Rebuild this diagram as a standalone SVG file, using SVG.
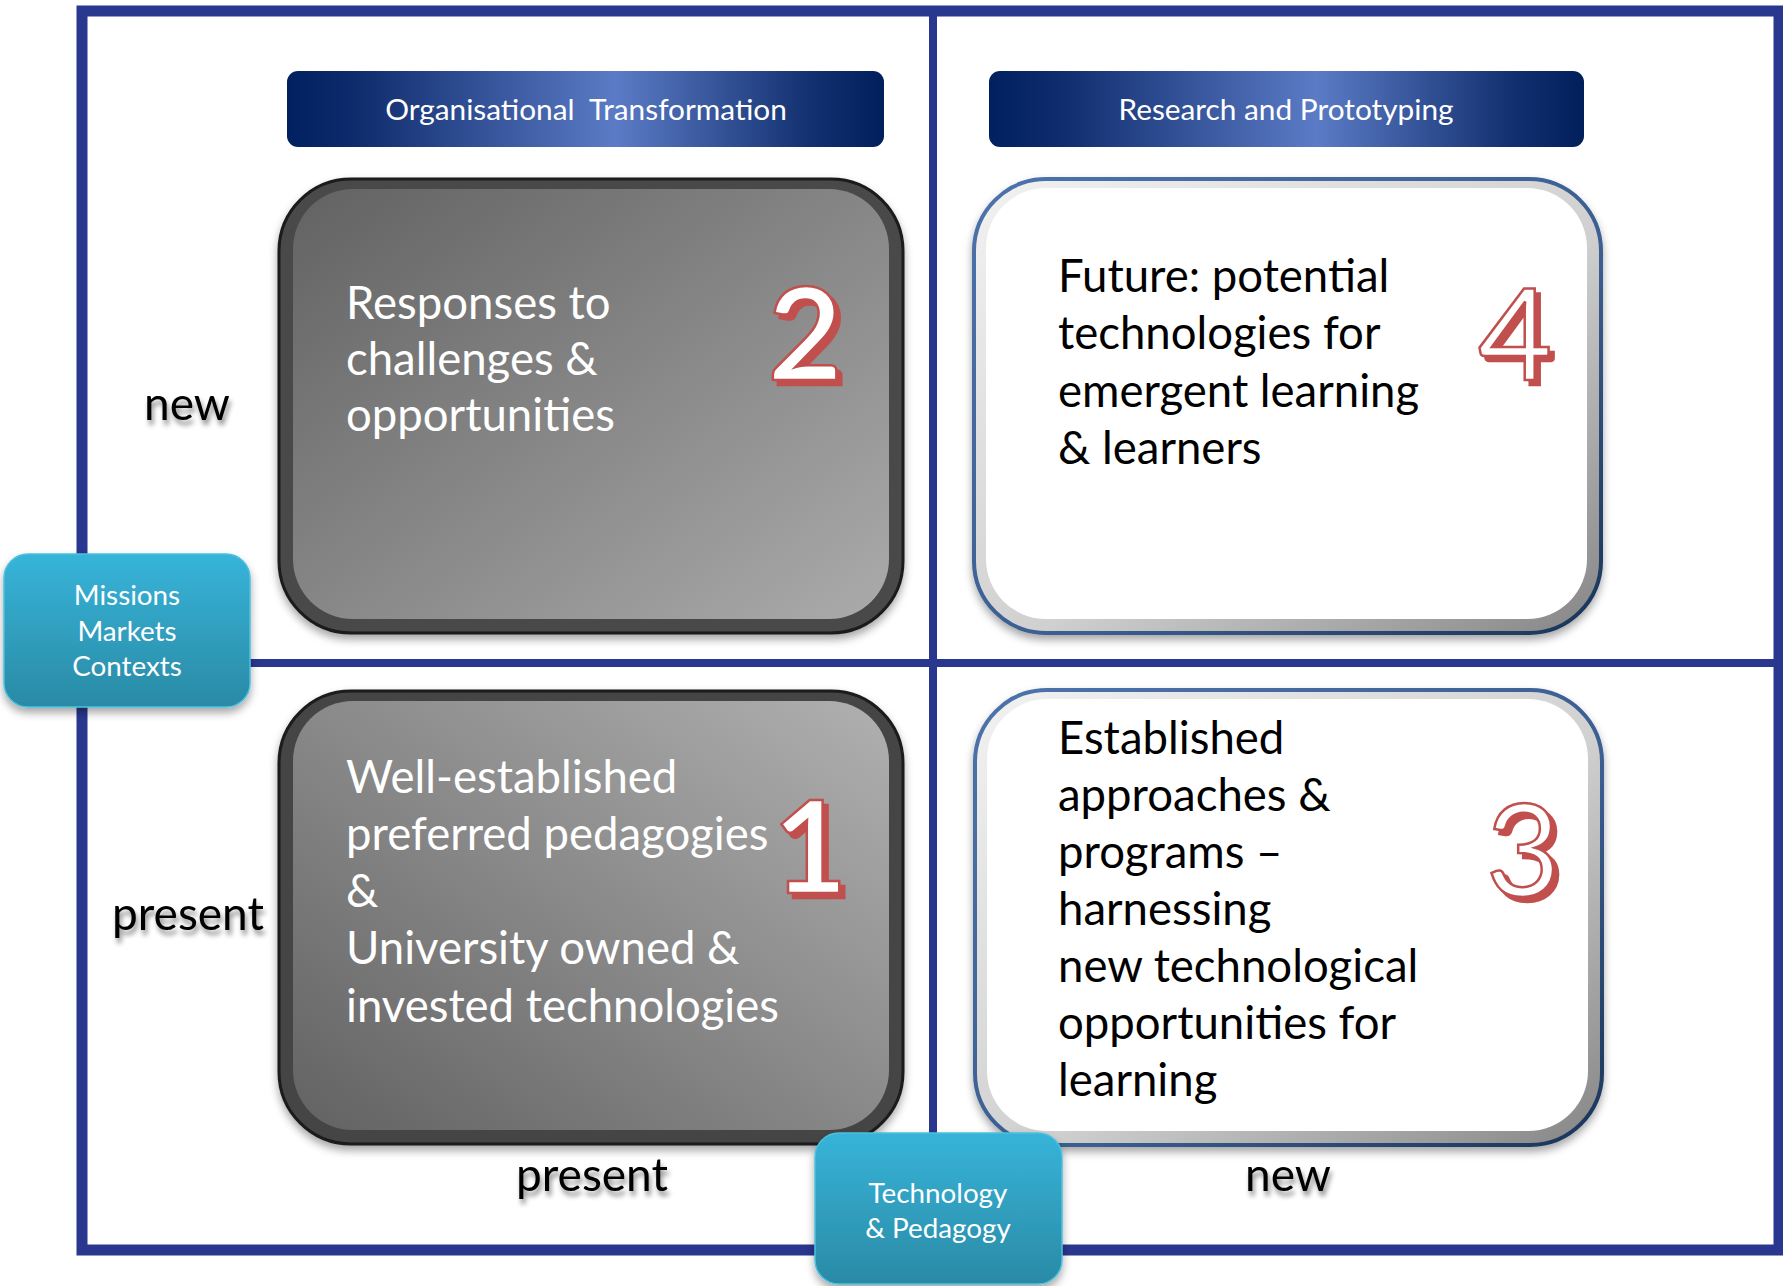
<svg xmlns="http://www.w3.org/2000/svg" width="1783" height="1286" viewBox="0 0 1783 1286">
  <defs>
    <linearGradient id="hdr" x1="0" y1="0" x2="1" y2="0">
      <stop offset="0" stop-color="#00205f"/>
      <stop offset="0.12" stop-color="#0f2c6d"/>
      <stop offset="0.55" stop-color="#5b7bc6"/>
      <stop offset="0.88" stop-color="#12306f"/>
      <stop offset="1" stop-color="#001f5b"/>
    </linearGradient>
    <linearGradient id="g2" x1="0" y1="0" x2="1" y2="1">
      <stop offset="0" stop-color="#626262"/>
      <stop offset="1" stop-color="#ababab"/>
    </linearGradient>
    <linearGradient id="g1" x1="0" y1="1" x2="1" y2="0">
      <stop offset="0" stop-color="#626262"/>
      <stop offset="1" stop-color="#b0b0b0"/>
    </linearGradient>
    <linearGradient id="rim" x1="0" y1="0" x2="1" y2="1">
      <stop offset="0" stop-color="#f2f2f2"/>
      <stop offset="0.55" stop-color="#d0d0d0"/>
      <stop offset="1" stop-color="#858585"/>
    </linearGradient>
    <linearGradient id="rimStroke" x1="0" y1="0" x2="1" y2="1">
      <stop offset="0" stop-color="#4d73ab"/>
      <stop offset="0.6" stop-color="#3a5d8f"/>
      <stop offset="1" stop-color="#1b3558"/>
    </linearGradient>
    <linearGradient id="cyan" x1="0" y1="0" x2="0" y2="1">
      <stop offset="0" stop-color="#37b4d9"/>
      <stop offset="1" stop-color="#2a8aa5"/>
    </linearGradient>
    <filter id="shadow" x="-10%" y="-10%" width="125%" height="130%">
      <feDropShadow dx="0" dy="5" stdDeviation="4" flood-color="#000" flood-opacity="0.35"/>
    </filter>
    <filter id="tshadow" x="-20%" y="-30%" width="150%" height="180%">
      <feDropShadow dx="2" dy="5" stdDeviation="2.5" flood-color="#000" flood-opacity="0.45"/>
    </filter>
    <filter id="numsh" x="-30%" y="-20%" width="170%" height="150%">
      <feOffset in="SourceAlpha" dx="5" dy="5" result="off"/>
      <feFlood flood-color="#c0504d"/>
      <feComposite in2="off" operator="in" result="sh"/>
      <feMerge>
        <feMergeNode in="sh"/>
        <feMergeNode in="SourceGraphic"/>
      </feMerge>
    </filter>
  </defs>
  <style>
    .body { font-family: Lato, "Liberation Sans", sans-serif; font-size: 45.5px; }
    .white { fill: #ffffff; }
    .black { fill: #000000; }
    .hdrtxt { font-family: Lato, "Liberation Sans", sans-serif; font-size: 29.8px; fill: #ffffff; text-anchor: middle; }
    .axis { font-family: Lato, "Liberation Sans", sans-serif; font-size: 46px; fill: #000000; text-anchor: middle; filter: url(#tshadow); }
    .cyantxt { font-family: Lato, "Liberation Sans", sans-serif; font-size: 27.8px; fill: #ffffff; text-anchor: middle; }
    .num { font-family: Lato, "Liberation Sans", sans-serif; font-size: 128px; text-anchor: middle; fill: #ffffff; stroke: #c0504d; stroke-width: 2.5; filter: url(#numsh); }
    .frame { stroke: #29378e; fill: none; }
  </style>

  <g id="connectors">
    <rect class="frame" x="82" y="11" width="1697" height="1239" stroke-width="11"/>
    <line class="frame" x1="933" y1="11" x2="933" y2="1250" stroke-width="8"/>
    <line class="frame" x1="82" y1="663" x2="1779" y2="663" stroke-width="8"/>
  </g>

  <g id="header-org">
    <rect x="287" y="71" width="597" height="76" rx="11" fill="url(#hdr)"/>
    <text class="hdrtxt" x="586" y="120" xml:space="preserve">Organisational  Transformation</text>
  </g>
  <g id="header-research">
    <rect x="989" y="71" width="595" height="76" rx="11" fill="url(#hdr)"/>
    <text class="hdrtxt" x="1286" y="120">Research and Prototyping</text>
  </g>

  <g id="quadrant-2">
    <rect x="279" y="179" width="624" height="454" rx="72" fill="#4a4a4a" stroke="#1a1a1a" stroke-width="3" filter="url(#shadow)"/>
    <rect x="293" y="189" width="596" height="430" rx="60" fill="url(#g2)"/>
    <text class="body white"><tspan x="346" y="319">Responses to</tspan><tspan x="346" y="375">challenges &amp;</tspan><tspan x="346" y="431">opportunities</tspan></text>
    <text class="num" x="805" y="380" font-weight="bold">2</text>
  </g>

  <g id="quadrant-4">
    <rect x="974" y="179" width="627" height="454" rx="72" fill="url(#rim)" stroke="url(#rimStroke)" stroke-width="4" filter="url(#shadow)"/>
    <rect x="986" y="188" width="601" height="431" rx="60" fill="#ffffff"/>
    <text class="body black"><tspan x="1058" y="292">Future: potential</tspan><tspan x="1058" y="349">technologies for</tspan><tspan x="1058" y="407">emergent learning</tspan><tspan x="1058" y="464">&amp; learners</tspan></text>
    <text class="num" x="1515" y="380">4</text>
  </g>

  <g id="quadrant-1">
    <rect x="279" y="691" width="624" height="453" rx="72" fill="#444444" stroke="#1a1a1a" stroke-width="3" filter="url(#shadow)"/>
    <rect x="293" y="701" width="596" height="429" rx="60" fill="url(#g1)"/>
    <text class="body white"><tspan x="346" y="793">Well-established</tspan><tspan x="346" y="850">preferred pedagogies</tspan><tspan x="346" y="907">&amp;</tspan><tspan x="346" y="964">University owned &amp;</tspan><tspan x="346" y="1022">invested technologies</tspan></text>
    <text class="num" x="810" y="893" font-weight="bold">1</text>
  </g>

  <g id="quadrant-3">
    <rect x="975" y="690" width="627" height="455" rx="72" fill="url(#rim)" stroke="url(#rimStroke)" stroke-width="4" filter="url(#shadow)"/>
    <rect x="987" y="699" width="601" height="432" rx="60" fill="#ffffff"/>
    <text class="body black"><tspan x="1058" y="754">Established</tspan><tspan x="1058" y="811">approaches &amp;</tspan><tspan x="1058" y="868">programs –</tspan><tspan x="1058" y="925">harnessing</tspan><tspan x="1058" y="982">new technological</tspan><tspan x="1058" y="1039">opportunities for</tspan><tspan x="1058" y="1096">learning</tspan></text>
    <text class="num" x="1523" y="896">3</text>
  </g>

  <g id="axis-labels">
    <text class="axis" x="187" y="420">new</text>
    <text class="axis" x="188" y="930">present</text>
    <text class="axis" x="592" y="1191">present</text>
    <text class="axis" x="1288" y="1191">new</text>
  </g>

  <g id="missions-markets-contexts">
    <rect x="4" y="554" width="246" height="153" rx="24" fill="url(#cyan)" stroke="#4ec0de" stroke-width="1.5" filter="url(#shadow)"/>
    <text class="cyantxt"><tspan x="127" y="605">Missions</tspan><tspan x="127" y="641">Markets</tspan><tspan x="127" y="676">Contexts</tspan></text>
  </g>

  <g id="technology-pedagogy">
    <rect x="815" y="1133" width="247" height="151" rx="24" fill="url(#cyan)" stroke="#4ec0de" stroke-width="1.5" filter="url(#shadow)"/>
    <text class="cyantxt"><tspan x="938" y="1203">Technology</tspan><tspan x="938" y="1238">&amp; Pedagogy</tspan></text>
  </g>
</svg>
